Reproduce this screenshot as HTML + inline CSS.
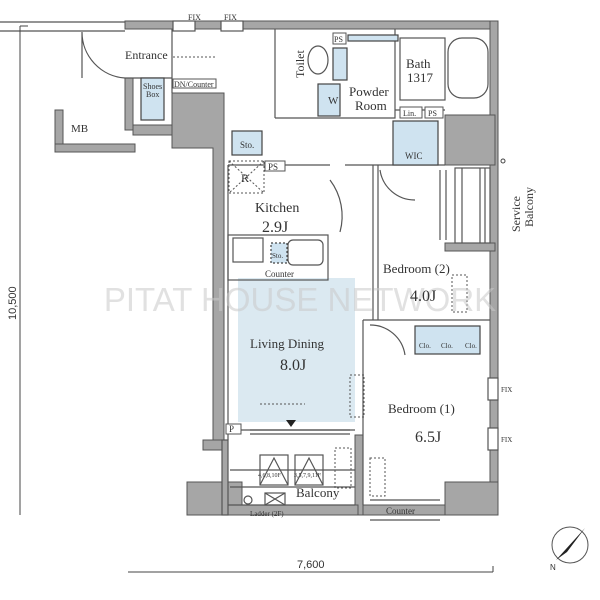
<!DOCTYPE html>
<html><head><style>
html,body{margin:0;padding:0;background:#fff;}
svg{display:block;}
text{font-family:"Liberation Serif",serif;fill:#333;}
.s{font-family:"Liberation Sans",sans-serif;}
</style></head><body>
<svg width="600" height="600" viewBox="0 0 600 600" xmlns="http://www.w3.org/2000/svg">
<!-- living blue -->
<rect x="238" y="278" width="117" height="144" fill="#dbe9f1"/>
<g fill="#a6a6a6" stroke="#555" stroke-width="1">
<rect x="125" y="21" width="373" height="8"/>
<rect x="490" y="21" width="8" height="494"/>
<rect x="445" y="115" width="50" height="50"/>
<rect x="445" y="243" width="50" height="8"/>
<rect x="125" y="78" width="8" height="52"/>
<rect x="55" y="110" width="8" height="42"/>
<rect x="55" y="144" width="80" height="8"/>
<rect x="133" y="125" width="40" height="10"/>
<path d="M172 93 L224 93 L224 440 L213 440 L213 148 L172 148 Z"/>
<rect x="187" y="482" width="55" height="33"/>
<rect x="445" y="482" width="53" height="33"/>
<rect x="203" y="440" width="25" height="10"/>
<rect x="355" y="435" width="8" height="80"/>
<rect x="228" y="505" width="130" height="10"/>
<rect x="363" y="505" width="82" height="10"/>
</g>
<g fill="none" stroke="#555" stroke-width="1.2">
<path d="M228 240 L228 430 L355 430 M228 430 L228 440"/>
<path d="M363 320 L363 505 M363 320 L490 320"/>
<path d="M373 165 L373 320 M378 165 L378 320 M373 165 L445 165"/>
<path d="M228 165 L228 240 M228 165 L330 165 M345 165 L373 165"/>
<path d="M275 29 L275 90 M275 118 L395 118 L395 110 M275 90 L275 118"/>
<path d="M395 110 L445 110 M395 29 L395 110"/>
<path d="M172 29 L172 93 M125 78 L172 78"/>
<path d="M228 505 L355 505 M230 470 L355 470 M230 487 L355 487"/>
<path d="M370 500 L440 500 M370 520 L440 520"/>
<rect x="222" y="440" width="6" height="75" fill="#a6a6a6"/>
<path d="M250 430 L350 430 M250 434 L350 434"/>
<path d="M440 170 L440 240 M446 170 L446 240"/>
<rect x="455" y="168" width="35" height="75"/>
<path d="M462 168 L462 243 M480 168 L480 243 M485 168 L485 243"/>
<rect x="488" y="378" width="10" height="22" fill="#fff"/>
<rect x="488" y="428" width="10" height="22" fill="#fff"/>
<rect x="173" y="21" width="22" height="10" fill="#fff"/>
<rect x="221" y="21" width="22" height="10" fill="#fff"/>
<path d="M82 32 A46 46 0 0 0 125 78 M82 32 L82 78"/>
<path d="M340 232 A60 60 0 0 0 330 180"/>
<path d="M380 170 A35 35 0 0 0 415 200"/>
<path d="M370 325 A35 35 0 0 1 405 355"/>
<path d="M0 22 L125 22 M0 31 L125 31"/>
<rect x="228" y="235" width="100" height="45"/>
<rect x="233" y="238" width="30" height="24"/>
<rect x="288" y="240" width="35" height="25" rx="5"/>
<rect x="400" y="38" width="45" height="62"/>
<rect x="448" y="38" width="40" height="60" rx="14"/>
<ellipse cx="318" cy="60" rx="10" ry="14"/>
<rect x="260" y="455" width="28" height="30"/>
<rect x="295" y="455" width="28" height="30"/>
<path d="M260 485 L274 458 L288 485 M295 485 L309 458 L323 485"/>
<rect x="265" y="493" width="20" height="12"/>
<path d="M265 493 L285 505 M285 493 L265 505"/>
<circle cx="248" cy="500" r="4"/>
</g>
<g fill="#cfe3f0" stroke="#444" stroke-width="1.2">
<rect x="141" y="78" width="23" height="42"/>
<rect x="232" y="131" width="30" height="24"/>
<rect x="393" y="121" width="45" height="44"/>
<rect x="318" y="84" width="22" height="32"/>
<rect x="333" y="48" width="14" height="32"/>
<rect x="348" y="35" width="50" height="6"/>
<rect x="415" y="326" width="65" height="28"/>
<rect x="271" y="243" width="16" height="20" stroke-dasharray="2 2"/>
</g>
<g fill="none" stroke="#555" stroke-width="1" stroke-dasharray="2 2">
<rect x="229" y="161" width="35" height="32"/>
<path d="M229 161 L264 193 M264 161 L229 193"/>
<rect x="350" y="375" width="14" height="42"/>
<rect x="370" y="458" width="15" height="38"/>
<rect x="452" y="275" width="15" height="37"/>
<rect x="335" y="448" width="16" height="40"/>
<path d="M260 404 L305 404"/>
<path d="M173 57 L215 57"/>
</g>
<path d="M286 420 L296 420 L291 427 Z" fill="#222"/>
<g fill="#fff" stroke="#555" stroke-width="1">
<rect x="265" y="161" width="20" height="10"/>
<rect x="333" y="33" width="13" height="11"/>
<rect x="425" y="107" width="18" height="11"/>
<rect x="400" y="107" width="22" height="11"/>
<rect x="226" y="424" width="15" height="10"/>
<rect x="173" y="79" width="43" height="9"/>
</g>
<!-- watermark on top, translucent -->
<text x="300" y="311" class="s" font-size="33" text-anchor="middle" style="fill:#c8c8c8" fill-opacity="0.55">PITAT HOUSE NETWORK</text>
<g font-size="11">
<text x="125" y="59" font-size="12">Entrance</text>
<text x="71" y="132" font-size="11">MB</text>
<text x="143" y="89" font-size="8">Shoes</text><text x="146" y="97" font-size="8">Box</text>
<text x="174" y="87" font-size="8">DN/Counter</text>
<text x="240" y="148" font-size="9">Sto.</text>
<text x="268" y="170" font-size="9">PS</text>
<text x="241" y="182" font-size="12">R</text>
<text x="255" y="212" font-size="14">Kitchen</text>
<text x="262" y="232" font-size="16">2.9J</text>
<text x="272" y="258" font-size="7">Sto.</text>
<text x="265" y="277" font-size="9">Counter</text>
<text x="250" y="348" font-size="13">Living Dining</text>
<text x="280" y="370" font-size="16">8.0J</text>
<text x="229" y="432" font-size="9">P</text>
<text x="188" y="20" font-size="8">FIX</text><text x="224" y="20" font-size="8">FIX</text>
<text transform="translate(304,78) rotate(-90)" font-size="12">Toilet</text>
<text x="334" y="42" font-size="8">PS</text>
<text x="349" y="96" font-size="13">Powder</text>
<text x="355" y="110" font-size="13">Room</text>
<text x="406" y="68" font-size="13">Bath</text>
<text x="407" y="82" font-size="13">1317</text>
<text x="403" y="116" font-size="8">Lin.</text>
<text x="428" y="116" font-size="8">PS</text>
<text x="405" y="159" font-size="9">WIC</text>
<text x="328" y="104" font-size="11">W</text>
<text transform="translate(520,232) rotate(-90)" font-size="12">Service</text>
<text transform="translate(533,227) rotate(-90)" font-size="12">Balcony</text>
<text x="383" y="273" font-size="13">Bedroom (2)</text>
<text x="410" y="301" font-size="16">4.0J</text>
<text x="419" y="348" font-size="7">Clo.</text><text x="441" y="348" font-size="7">Clo.</text><text x="465" y="348" font-size="7">Clo.</text>
<text x="388" y="413" font-size="13">Bedroom (1)</text>
<text x="415" y="442" font-size="16">6.5J</text>
<text x="386" y="514" font-size="9">Counter</text>
<text x="296" y="497" font-size="13">Balcony</text>
<text x="258" y="477" font-size="6">4,6,8,10F</text><text x="294" y="477" font-size="6">3,5,7,9,11F</text>
<text x="250" y="516" font-size="7">Ladder (2F)</text>
<text x="501" y="392" font-size="7">FIX</text><text x="501" y="442" font-size="7">FIX</text>
</g>
<g stroke="#444" stroke-width="1" fill="none">
<path d="M20 26 L20 515 M20 26 L28 26"/>
<path d="M128 572 L493 572 M493 566 L493 572"/>
<circle cx="503" cy="161" r="2"/>
</g>
<text transform="translate(16,320) rotate(-90)" class="s" font-size="11">10,500</text>
<text x="297" y="568" class="s" font-size="11">7,600</text>
<circle cx="570" cy="545" r="18" fill="none" stroke="#555"/>
<path d="M556 560 L585 528 L567 552 Z" fill="#222"/>
<text x="550" y="570" class="s" font-size="8">N</text>
</svg>
</body></html>
